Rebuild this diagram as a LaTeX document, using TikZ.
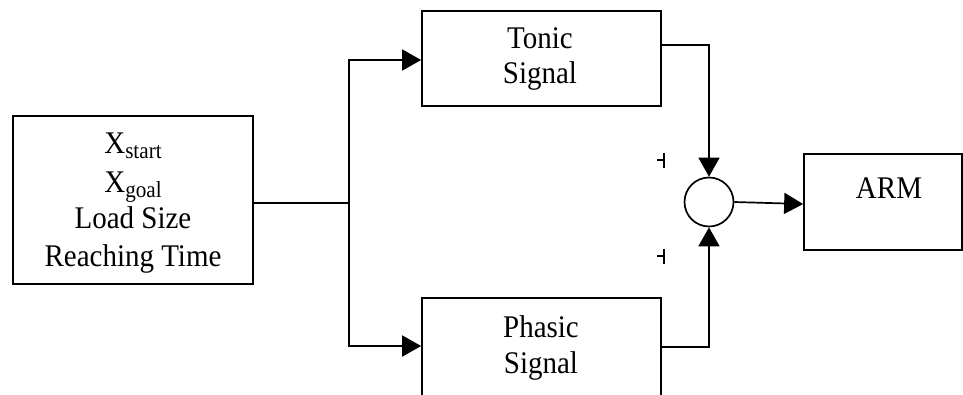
\documentclass[tikz,border=0pt]{standalone}
\usepackage{fontspec}
\setmainfont{Liberation Serif}[FakeStretch=0.92]
\usetikzlibrary{arrows.meta}
\begin{document}
\begin{tikzpicture}[x=1pt,y=-1pt,
  line width=1.7pt,
  blk/.style={draw, line width=1.7pt, inner sep=0pt},
  lbl/.style={font=\fontsize{31.5}{36}\selectfont, anchor=base, inner sep=0pt},
  arr/.style={-{Triangle[length=19pt,width=21pt]}}]
\newcommand{\subtxt}[1]{\raisebox{-5pt}{\fontsize{23}{25}\selectfont #1}}
\useasboundingbox (0,0) rectangle (963,394);
% boxes
\node[blk, minimum width=240pt, minimum height=168pt] (inp) at (133,200) {};
\node[blk, minimum width=239pt, minimum height=95pt] (ton) at (541.5,58.5) {};
\node[blk, minimum width=239pt, minimum height=100pt] (pha) at (541.5,348) {};
\node[blk, minimum width=158pt, minimum height=96pt] (arm) at (883,202) {};
\node[draw, circle, minimum size=49pt, inner sep=0pt, line width=1.7pt] (sum) at (709,202) {};
% texts
\node[lbl] (t1) at (133,153) {X\subtxt{start}};
\node[lbl] (t2) at (133,192) {X\subtxt{goal}};
\node[lbl] (t3) at (133,228) {Load Size};
\node[lbl] (t4) at (133,266) {Reaching Time};
\node[lbl] (tt1) at (540,48) {Tonic};
\node[lbl] (tt2) at (540,83) {Signal};
\node[lbl] (pt1) at (541,337) {Phasic};
\node[lbl] (pt2) at (541,373) {Signal};
\node[lbl] (at) at (889,198) {ARM};
% connectors
\coordinate (j) at (349,203);
\draw (inp.east |- 0,203) -- (j);
\draw[arr] (j) |- (ton.west |- 0,60);
\draw[arr] (j) |- (pha.west |- 0,346);
\draw[arr] (ton.east |- 0,45) -| (sum.north);
\draw[arr] (pha.east |- 0,347) -| (sum.south);
\draw[arr] (sum.east) -- (arm.west |- 0,204);
% small marks
\draw[line width=1.2pt] (657,160) -- (664,160) (664,153) -- (664,168);
\draw[line width=1.2pt] (657,256) -- (664,256) (664,249) -- (664,264);
\end{tikzpicture}
\end{document}
